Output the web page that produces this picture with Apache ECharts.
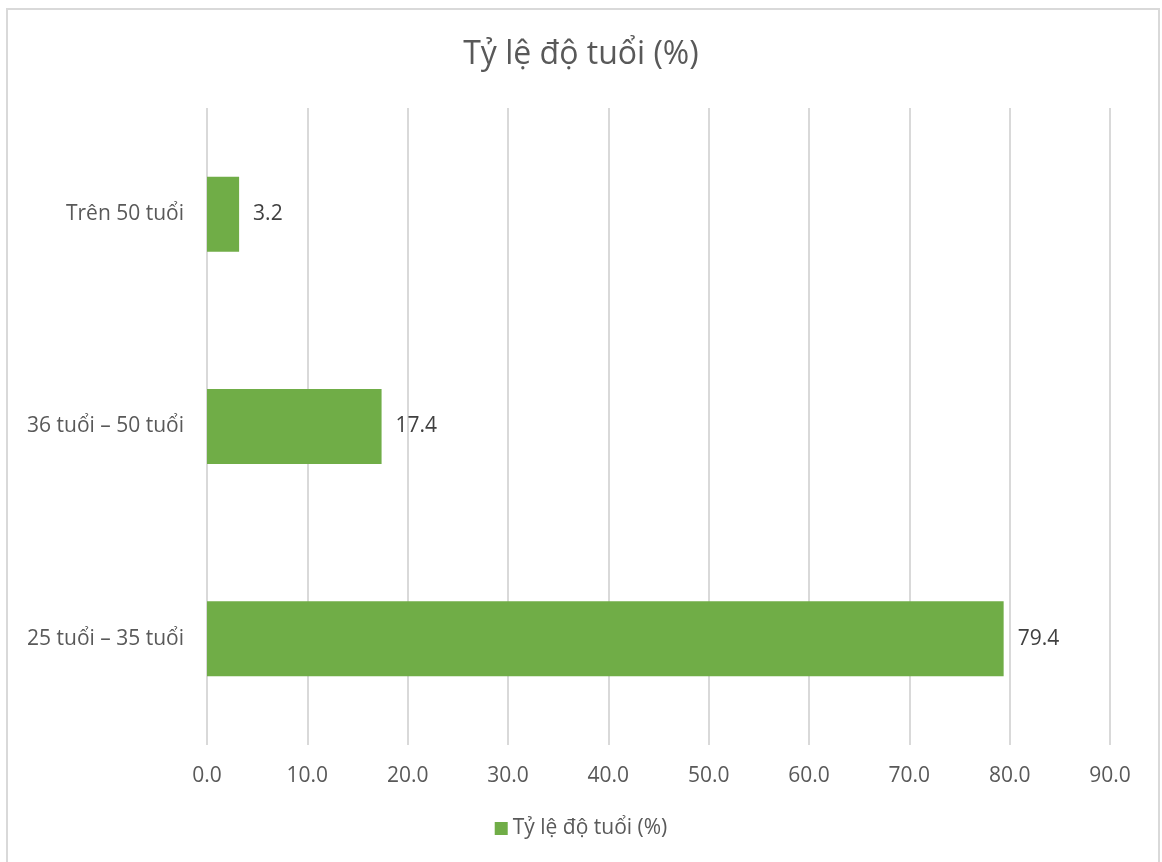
<!DOCTYPE html>
<html>
<head>
<meta charset="utf-8">
<script src="https://cdn.jsdelivr.net/npm/echarts@6/dist/echarts.min.js"></script>
<style>
  html, body { margin: 0; padding: 0; background: #fff; }
  #main { width: 1162px; height: 862px; }
</style>
</head>
<body>
<div id="main"></div>
<script>
var categories = ["25 tuổi – 35 tuổi", "36 tuổi – 50 tuổi", "Trên 50 tuổi"];
var values = [79.4, 17.4, 3.2];
var seriesName = "Tỷ lệ độ tuổi (%)";

var myChart = echarts.init(document.getElementById("main"));
var fontName = "'Open Sans', 'Noto Sans', sans-serif";

var option = {
  backgroundColor: "#ffffff",
  animation: false,
  title: {
    text: seriesName,
    left: "center",
    top: 34,
    textStyle: { fontFamily: fontName, fontSize: 32, fontWeight: "normal", color: "#595959" }
  },
  graphic: [
    {
      type: "rect",
      shape: { x: 7, y: 9, width: 1152, height: 860 },
      style: { fill: "none", stroke: "#d9d9d9", lineWidth: 2 },
      silent: true
    }
  ],
  legend: {
    bottom: 18,
    left: "center",
    itemWidth: 13,
    itemHeight: 13,
    itemGap: 6,
    icon: "rect",
    textStyle: { fontFamily: fontName, fontSize: 21, color: "#595959" },
    data: [seriesName]
  },
  grid: { left: 207, right: 52, top: 108, bottom: 117 },
  xAxis: {
    type: "value",
    min: 0,
    max: 90,
    interval: 10,
    axisLine: { show: false },
    axisTick: { show: false },
    splitLine: { show: true, lineStyle: { color: "#d9d9d9", width: 2 } },
    axisLabel: {
      margin: 21,
      fontFamily: fontName,
      fontSize: 21,
      color: "#595959",
      formatter: function (v) { return v.toFixed(1); }
    }
  },
  yAxis: {
    type: "category",
    data: categories,
    axisLine: { show: false },
    axisTick: { show: false },
    axisLabel: { margin: 23, fontFamily: fontName, fontSize: 21, color: "#595959" }
  },
  series: [
    {
      name: seriesName,
      type: "bar",
      data: values,
      barWidth: 75,
      itemStyle: { color: "#70ad47" },
      label: {
        show: true,
        position: "right",
        distance: 14,
        fontFamily: fontName,
        fontSize: 21,
        color: "#404040",
        formatter: function (p) { return p.value.toFixed(1); }
      }
    }
  ]
};
myChart.setOption(option);
</script>
</body>
</html>
